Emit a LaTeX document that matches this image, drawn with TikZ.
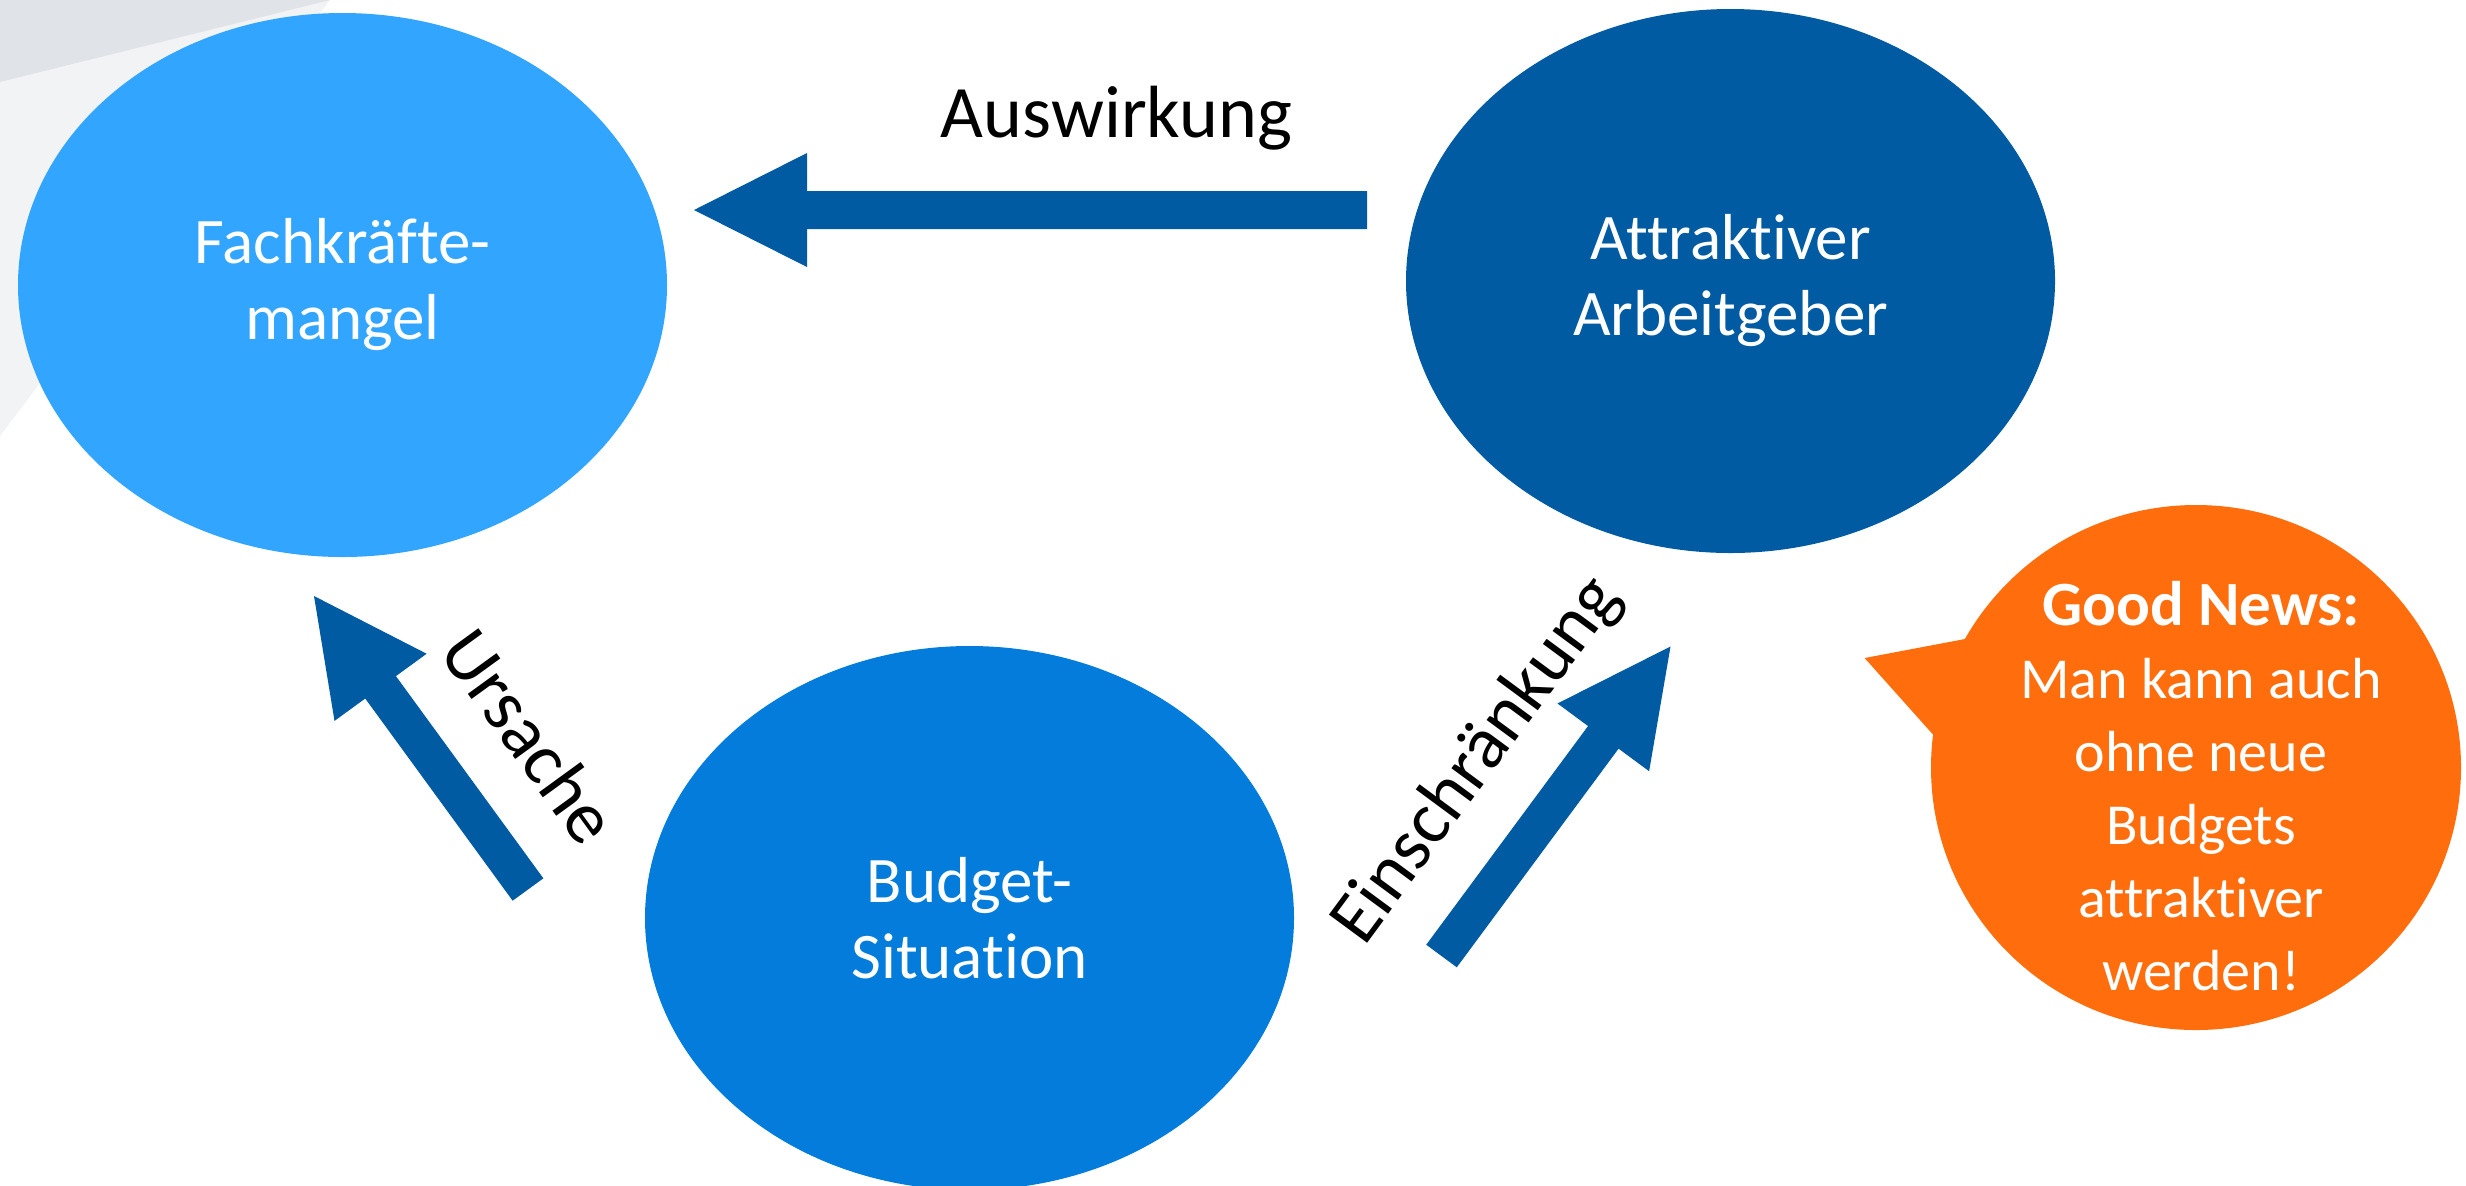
\documentclass[tikz,border=0pt]{standalone}
\usepackage{fontspec}
\setmainfont{Carlito}[Ligatures={NoCommon,NoRare},Contextuals=NoAlternate]
\usetikzlibrary{shapes.geometric,calc}
\definecolor{lblue}{HTML}{31A5FF}
\definecolor{dblue}{HTML}{015BA3}
\definecolor{mblue}{HTML}{037CDC}
\definecolor{orng}{HTML}{FF6D0C}
\definecolor{gdark}{HTML}{E0E3E8}
\definecolor{glight}{HTML}{F2F3F5}
\tikzset{
  blob/.style={ellipse, inner sep=0pt, minimum width=324.5pt, minimum height=272pt,
    text=white, align=center, font=\fontsize{32.5pt}{38pt}\selectfont},
  lbl/.style={text=black, inner sep=0pt, font=\fontsize{37pt}{44pt}\selectfont},
  bubtext/.style={text=white, inner sep=0pt, align=center, font=\fontsize{29pt}{36.5pt}\selectfont},
  arrowfill/.style={fill=dblue},
}
\newcommand\blockarr[2]{%
  \coordinate (#2h) at ($(#2)!56.5pt!(#1)$);
  \fill[arrowfill] ($(#1)!9.5pt!90:(#2)$) -- ($(#2h)!9.5pt!90:(#2)$) -- ($(#2h)!28.5pt!90:(#2)$)
    -- (#2) -- ($(#2h)!28.5pt!-90:(#2)$) -- ($(#2h)!9.5pt!-90:(#2)$) -- ($(#1)!9.5pt!-90:(#2)$) -- cycle;
}
\begin{document}
\begin{tikzpicture}[x=0.5pt,y=-0.5pt]
\useasboundingbox (0,0) rectangle (2466,1185);
% background decoration
\fill[glight] (0,0) -- (330,0) -- (0,436) -- cycle;
\fill[gdark] (0,0) -- (330,0) -- (0,82) -- cycle;
% main ellipses
\node[blob, fill=lblue] (fm) at (342.5,285) {Fachkräfte-\\mangel};
\node[blob, fill=dblue] (aa) at (1730.5,281) {Attraktiver\\Arbeitgeber};
\node[blob, fill=mblue] (bs) at (969.5,918) {Budget-\\Situation};
% speech bubble
\node[ellipse, fill=orng, minimum width=265pt, minimum height=262.5pt, inner sep=0pt] (gn) at (2196,767.5) {};
\coordinate (gtip) at (1864.6,658);
\coordinate (gb1) at (1965,639);
\coordinate (gb2) at (1932.5,734);
\fill[orng] (gtip) -- (gb1) -- (gn.center) -- (gb2) -- cycle;
\node[bubtext] (gnt) at (2201,786) {{\fontsize{31.5pt}{36.5pt}\selectfont\bfseries Good News:}\\Man kann auch\\ohne neue\\Budgets\\attraktiver\\werden!};
% arrows
\coordinate (a1s) at (1367,210); \coordinate (a1t) at (694,210);
\coordinate (a2s) at (528,889.5); \coordinate (a2t) at (314,596);
\coordinate (a3s) at (1441.5,956); \coordinate (a3t) at (1670.5,646.5);
\blockarr{a1s}{a1t}
\blockarr{a2s}{a2t}
\blockarr{a3s}{a3t}
% labels
\node[lbl, anchor=base] (lauf) at (1116.5,137) {Auswirkung};
\node[lbl, rotate=-54] (lurs) at (530,736) {Ursache};
\node[lbl, rotate=53.6] (lein) at (1477.6,760.7) {Einschränkung};
\end{tikzpicture}
\end{document}
